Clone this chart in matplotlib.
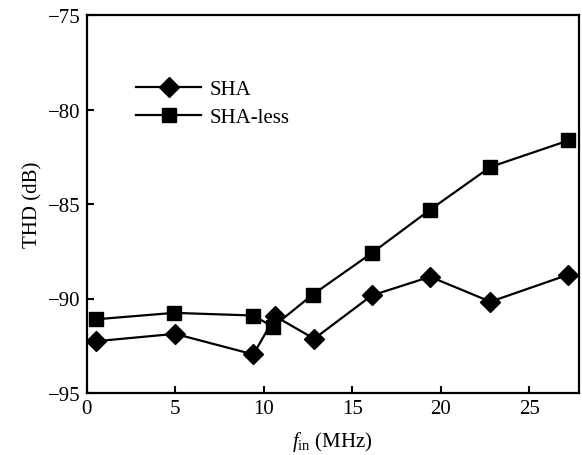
import matplotlib
matplotlib.use("Agg")
import matplotlib.pyplot as plt

freq_sha = [0.54, 5.0, 9.42, 10.65, 12.85, 16.1, 19.4, 22.8, 27.2]
thd_sha = [-92.26, -91.87, -92.96, -90.94, -92.13, -89.84, -88.85, -90.17, -88.74]
freq_less = [0.54, 4.94, 9.42, 10.52, 12.76, 16.1, 19.4, 22.8, 27.2]
thd_less = [-91.1, -90.76, -90.9, -91.5, -89.8, -87.6, -85.3, -83.04, -81.64]
xticks = [0, 5, 10, 15, 20, 25]
yticks = [-95, -90, -85, -80, -75]

plt.rcParams['font.family'] = ['Liberation Serif', 'DejaVu Serif']
plt.rcParams['axes.unicode_minus'] = True
plt.rcParams['mathtext.fontset'] = 'custom'
plt.rcParams['mathtext.rm'] = 'Liberation Serif'
plt.rcParams['mathtext.it'] = 'Liberation Serif:italic'

fig = plt.figure(figsize=(5.82, 4.56), dpi=100)
ax = fig.add_axes([86.5/582, 1-394/456, (579-86.5)/582, (394-16)/456])

ax.plot(freq_sha, thd_sha, color='black', lw=1.6, marker='D', markersize=10, label='SHA')
ax.plot(freq_less, thd_less, color='black', lw=1.6, marker='s', markersize=9.5, label='SHA-less')

ax.set_xlim(0, 27.8)
ax.set_ylim(-95, -75)
ax.set_xticks(xticks)
ax.set_yticks(yticks)
ax.set_yticklabels([f"\u2212{abs(v)}" for v in yticks])
ax.tick_params(direction='in', length=5, width=1.5, labelsize=15, top=False, right=False, pad=4)
for s in ax.spines.values():
    s.set_linewidth(1.6)

ax.set_xlabel(r'$f_{\mathrm{in}}$ (MHz)', fontsize=15, labelpad=8)
ax.set_ylabel('THD (dB)', fontsize=15)

ax.legend(loc='upper left', bbox_to_anchor=(0.08, 0.857), frameon=False, fontsize=15,
          handlelength=3.1, labelspacing=0.42, handletextpad=0.4, borderpad=0)

fig.savefig('out.png', dpi=100)
